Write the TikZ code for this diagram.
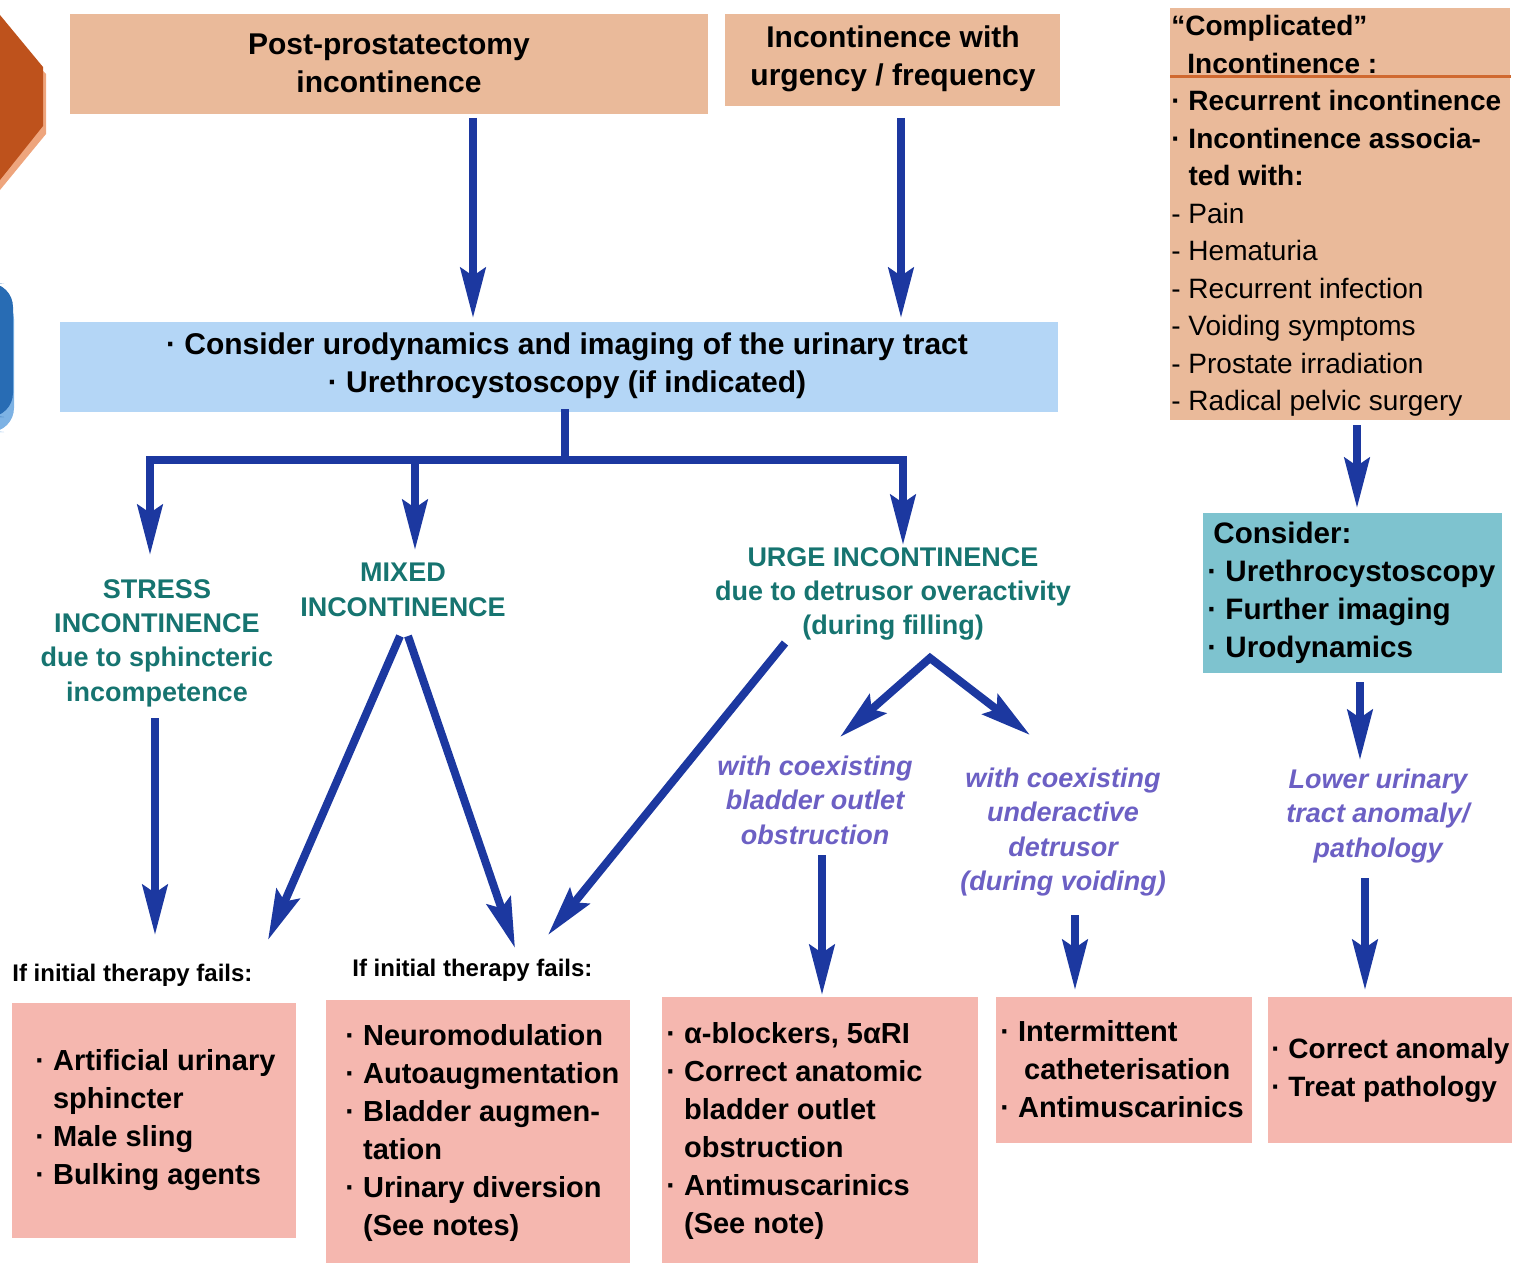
\documentclass[tikz,border=0pt]{standalone}
\usepackage{fontspec}
\setmainfont{Liberation Sans}
\usetikzlibrary{arrows.meta}
\definecolor{peach}{RGB}{234,186,154}
\definecolor{lblue}{RGB}{180,214,246}
\definecolor{cteal}{RGB}{126,195,207}
\definecolor{salmon}{RGB}{245,183,175}
\definecolor{arrblue}{RGB}{28,56,160}
\definecolor{tealtxt}{RGB}{22,116,112}
\definecolor{purtxt}{RGB}{108,96,196}
\definecolor{oline}{RGB}{208,105,48}
\definecolor{darkor}{RGB}{190,82,28}
\definecolor{lightor}{RGB}{238,165,125}
\definecolor{dblue}{RGB}{40,108,180}
\definecolor{lbl2}{RGB}{125,178,228}
\newcommand{\hind}{\hphantom{·\ }}
\begin{document}
\begin{tikzpicture}[x=0.5pt,y=-0.5pt,
  box/.style={inner sep=0pt, anchor=north west, draw=none},
  arr/.style={draw=arrblue, line width=4pt, -{Stealth[length=25pt,width=12.5pt,inset=4pt]}},
  darr/.style={draw=arrblue, line width=4pt, line join=miter, {Stealth[length=25pt,width=12.5pt,inset=4pt]}-{Stealth[length=25pt,width=12.5pt,inset=4pt]}},
  ln/.style={draw=arrblue, line width=4pt, line cap=rect},
  hd/.style={font=\fontsize{15}{19}\selectfont\bfseries, align=center, inner sep=0pt},
  tl/.style={font=\fontsize{13.5}{17.2}\selectfont\bfseries, text=tealtxt, align=center, inner sep=0pt},
  pl/.style={font=\fontsize{13.5}{17.3}\selectfont\bfseries\itshape, text=purtxt, align=center, inner sep=0pt},
  lst/.style={font=\fontsize{14.5}{19}\selectfont\bfseries, align=left, anchor=west, inner sep=0pt},
  lab/.style={font=\fontsize{12}{14}\selectfont\bfseries, anchor=west, inner sep=0pt}
]
\useasboundingbox (0,0) rectangle (1515,1263);
% decorative edge shapes
\fill[lightor] (0,24) -- (46,74) -- (46,134) -- (0,190) -- cycle;
\fill[darkor] (0,15) -- (43,67) -- (43,126) -- (0,180) -- cycle;
\fill[lbl2, rounded corners=12] (-20,295) -- (14,295) -- (14,432) -- (-20,432) -- cycle;
\fill[dblue, rounded corners=12] (-20,283) -- (13,283) -- (13,417) -- (-20,417) -- cycle;

% boxes
\node[box, fill=peach, minimum width=319pt, minimum height=50pt] (A) at (70,14) {};
\node[box, fill=peach, minimum width=167.5pt, minimum height=46pt] (B) at (725,14) {};
\node[box, fill=lblue, minimum width=499pt, minimum height=45pt] (C) at (60,322) {};
\node[box, fill=peach, minimum width=170pt, minimum height=206pt] (K) at (1170,8) {};
\node[box, fill=cteal, minimum width=149.5pt, minimum height=80pt] (L) at (1203,513) {};
\node[box, fill=salmon, minimum width=142pt, minimum height=117.5pt] (D1) at (12,1003) {};
\node[box, fill=salmon, minimum width=152pt, minimum height=131.5pt] (D2) at (326,1000) {};
\node[box, fill=salmon, minimum width=158pt, minimum height=133pt] (D3) at (662,997) {};
\node[box, fill=salmon, minimum width=128pt, minimum height=73pt] (D4) at (996,997) {};
\node[box, fill=salmon, minimum width=122pt, minimum height=73pt] (D5) at (1268,997) {};
\draw[oline, line width=1.5pt] (K.west |- 0,77) -- (K.east |- 0,77);

% texts
\node[hd] (At) at (389,63) {Post-prostatectomy\\incontinence};
\node[hd] (Bt) at (893,59) {Incontinence with\\urgency / frequency};
\node[hd] (Ct) at (567,366) {· Consider urodynamics and imaging of the urinary tract\\· Urethrocystoscopy (if indicated)};
\node[font=\fontsize{14}{18.75}\selectfont\bfseries, align=left, anchor=west, inner sep=0pt] (Kt) at (1171,216)
 {``Complicated''\\
  \hspace*{8pt}Incontinence :\\
  · Recurrent incontinence\\
  · Incontinence associa-\\
  \hind ted with:\\
  {\mdseries - Pain}\\
  {\mdseries - Hematuria}\\
  {\mdseries - Recurrent infection}\\
  {\mdseries - Voiding symptoms}\\
  {\mdseries - Prostate irradiation}\\
  {\mdseries - Radical pelvic surgery}};
\node[font=\fontsize{14.8}{19}\selectfont\bfseries, align=left, anchor=west, inner sep=0pt] (Lt) at (1207,593)
 {\hspace*{3pt}Consider:\\
  · Urethrocystoscopy\\
  · Further imaging\\
  · Urodynamics};
\node[tl] (S) at (157,643) {STRESS\\INCONTINENCE\\due to sphincteric\\incompetence};
\node[tl] (M) at (403,590) {MIXED\\INCONTINENCE};
\node[tl] (U) at (893,594) {URGE INCONTINENCE\\due to detrusor overactivity\\(during filling)};
\node[pl] (P1) at (815,800) {with coexisting\\bladder outlet\\obstruction};
\node[pl] (P2) at (1063,832) {with coexisting\\underactive\\detrusor\\(during voiding)};
\node[pl] (P3) at (1378,816) {Lower urinary\\tract anomaly/\\pathology};
\node[lab] (F1) at (12,975) {If initial therapy fails:};
\node[lab] (F2) at (352,970) {If initial therapy fails:};
\node[lst] (D1t) at (35,1120) {· Artificial urinary\\\hind sphincter\\· Male sling\\· Bulking agents};
\node[lst] (D2t) at (345,1133) {· Neuromodulation\\· Autoaugmentation\\· Bladder augmen-\\\hind tation\\· Urinary diversion\\\hind (See notes)};
\node[lst] (D3t) at (666,1131) {· α-blockers, 5αRI\\· Correct anatomic\\\hind bladder outlet\\\hind obstruction\\· Antimuscarinics\\\hind (See note)};
\node[lst] (D4t) at (1000,1069) {· Intermittent\\\hind\hspace*{3pt}catheterisation\\· Antimuscarinics};
\node[lst, font=\fontsize{14}{19}\selectfont\bfseries] (D5t) at (1271,1070) {· Correct anomaly\\· Treat pathology};

% connector points
\coordinate (a1s) at (473,118); \coordinate (a1e) at (473,318);
\coordinate (a2s) at (901,118); \coordinate (a2e) at (901,318);
\coordinate (j) at (565,460);
\coordinate (bs) at (150,555); \coordinate (bm0) at (415,460); \coordinate (bm) at (415,550); \coordinate (bu) at (903,545);
\coordinate (s1) at (155,718); \coordinate (s2) at (155,935);
\coordinate (m0a) at (400,636); \coordinate (m1) at (268,940);
\coordinate (m0b) at (408,636); \coordinate (m2) at (515,948);
\coordinate (u0) at (785,643); \coordinate (u1) at (548,935);
\coordinate (v1) at (840,737); \coordinate (v0) at (930,658); \coordinate (v2) at (1030,735);
\coordinate (p1a) at (822,855); \coordinate (p1b) at (822,995);
\coordinate (p2a) at (1075,915); \coordinate (p2b) at (1075,990);
\coordinate (k1) at (1357,425); \coordinate (k2) at (1357,508);
\coordinate (l1) at (1360,682); \coordinate (l2) at (1360,760);
\coordinate (q1) at (1365,878); \coordinate (q2) at (1365,990);

% connectors
\draw[arr] (a1s) -- (a1e);
\draw[arr] (a2s) -- (a2e);
\draw[ln] (C.south -| j) -- (j);
\draw[arr] (j) -| (bs);
\draw[arr] (j) -| (bu);
\draw[arr] (bm0) -- (bm);
\draw[arr] (s1) -- (s2);
\draw[arr] (m0a) -- (m1);
\draw[arr] (m0b) -- (m2);
\draw[arr] (u0) -- (u1);
\draw[darr] (v1) -- (v0) -- (v2);
\draw[arr] (p1a) -- (p1b);
\draw[arr] (p2a) -- (p2b);
\draw[arr] (k1) -- (k2);
\draw[arr] (l1) -- (l2);
\draw[arr] (q1) -- (q2);
\end{tikzpicture}
\end{document}
